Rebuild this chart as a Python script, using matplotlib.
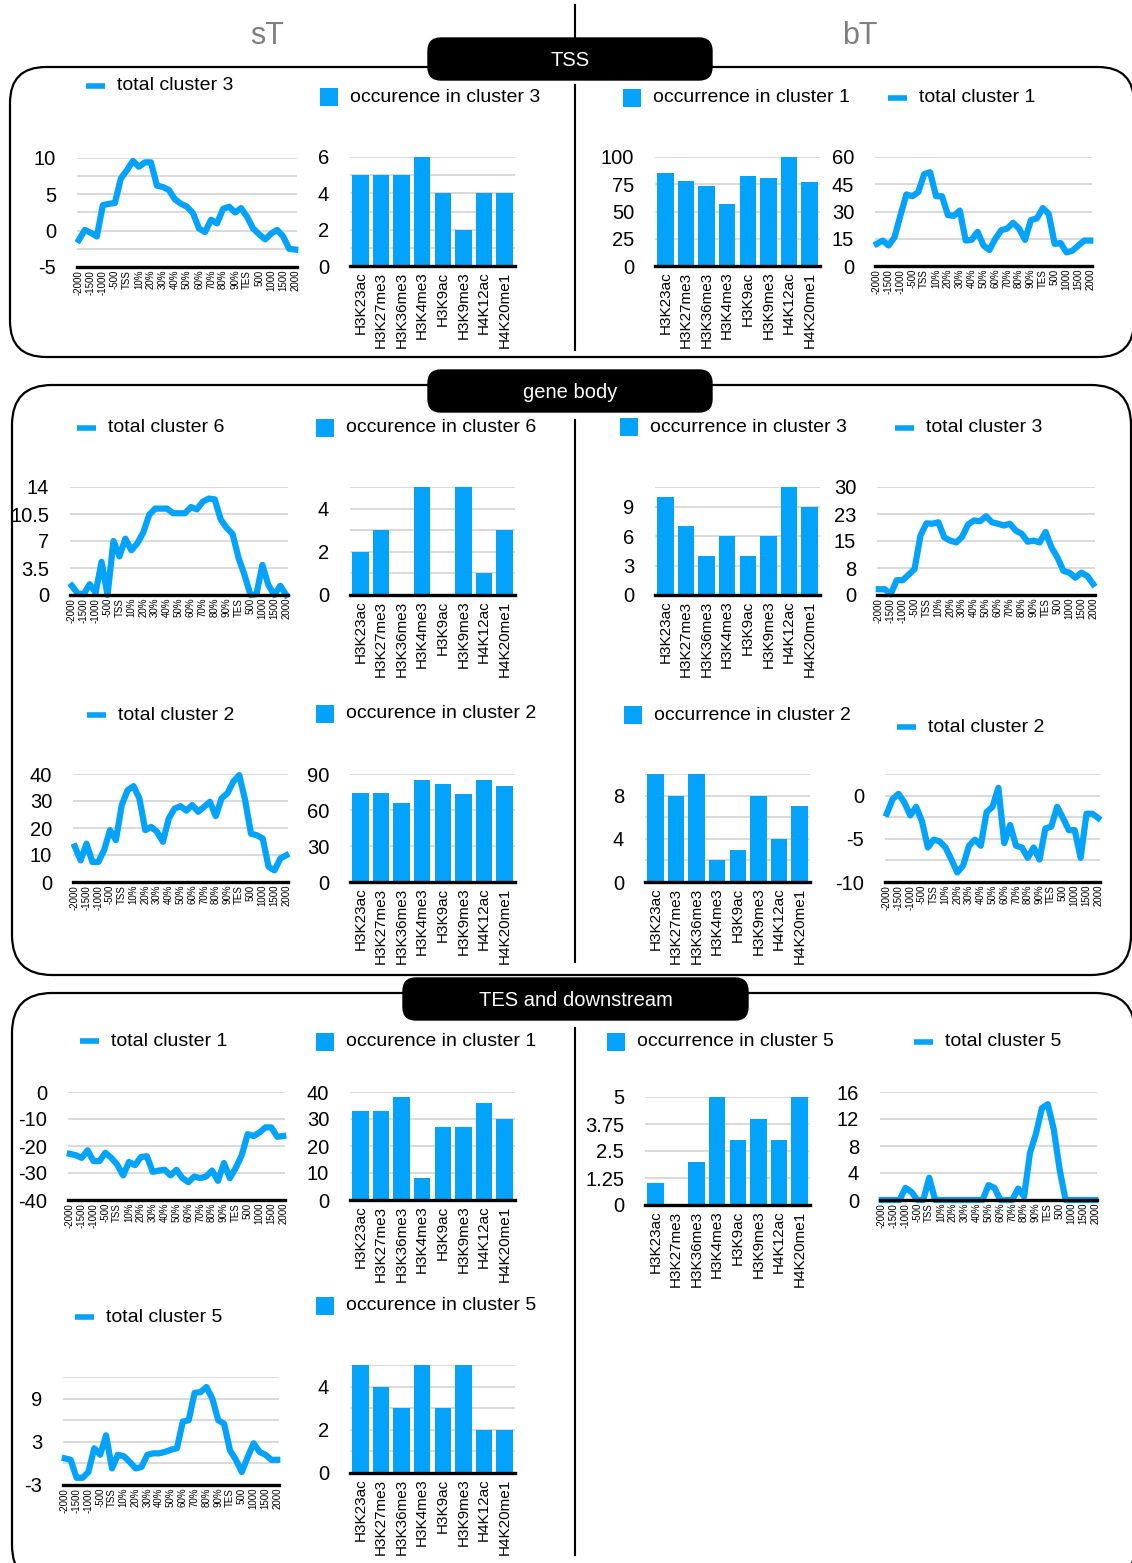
import matplotlib
matplotlib.use('Agg')
import matplotlib.pyplot as plt
from matplotlib.patches import FancyBboxPatch, Rectangle

plt.rcParams['font.family'] = ['Liberation Sans', 'DejaVu Sans']

W, H = 1132, 1563
BLUE = '#03a3fb'

POS_LABELS = ['-2000', '-1500', '-1000', '-500', 'TSS', '10%', '20%', '30%', '40%',
              '50%', '60%', '70%', '80%', '90%', 'TES', '500', '1000', '1500', '2000']
MARKS = ['H3K23ac', 'H3K27me3', 'H3K36me3', 'H3K4me3', 'H3K9ac', 'H3K9me3', 'H4K12ac', 'H4K20me1']

# TSS
tss_st_total3 = [-1.3, 0.1, -0.3, -0.8, 3.5, 3.7, 3.8, 7.2, 8.3, 9.6, 8.8, 9.4, 9.4, 6.2, 6.0, 5.6,
                 4.3, 3.7, 3.3, 2.4, 0.3, -0.2, 1.5, 1.0, 3.0, 3.3, 2.5, 3.1, 1.9, 0.3, -0.5, -1.2,
                 -0.4, 0.1, -0.8, -2.5, -2.6]
tss_st_occ3 = [5, 5, 5, 6, 4, 2, 4, 4]
tss_bt_occ1 = [85, 78, 73, 57, 83, 81, 100, 77]
tss_bt_total1 = [12.2, 14, 11.3, 15.9, 28, 39.4, 38.4, 40.7, 50.6, 51.6, 38.4, 38.4, 28, 27.6, 30.5,
                 14, 14.4, 18.8, 11.3, 8.8, 15, 19.7, 20.6, 23.8, 20.6, 14.4, 25.3, 26.2, 31.9, 28.7,
                 12.2, 12.6, 7.5, 8.4, 11.3, 14, 14]

# gene body
gb_st_total6 = [1.2, 0.2, 0.1, 1.4, 0.3, 4.3, 0.0, 7.0, 5.0, 7.3, 5.8, 6.7, 8.1, 10.4, 11.2, 11.2,
                11.2, 10.6, 10.6, 10.6, 11.4, 11.1, 12.1, 12.5, 12.4, 9.8, 8.7, 7.9, 4.8, 2.6, 0.0,
                0.1, 3.9, 1.3, 0.0, 1.2, 0.0]
gb_st_occ6 = [2, 3, 0, 5, 0, 5, 1, 3]
gb_bt_occ3 = [10, 7, 4, 6, 4, 6, 11, 9]
gb_bt_total3 = [1.6, 1.6, 0.2, 4.1, 4.1, 5.6, 7.2, 16.5, 19.9, 19.8, 20.2, 16.0, 15.1, 14.6, 16.2,
                19.6, 20.7, 20.5, 21.9, 20.2, 19.8, 19.3, 19.8, 17.9, 17.0, 14.8, 15.1, 14.6, 17.5,
                13.2, 10.4, 6.7, 6.2, 4.8, 6.2, 5.3, 3.0]
gb_st_total2 = [13.2, 8.0, 14.2, 7.4, 7.4, 11.8, 19.2, 15.5, 28.5, 34, 35.5, 31, 19.2, 20.4, 18.6,
                14.9, 23.5, 27.2, 28.1, 26.4, 28.5, 26, 27.8, 29.7, 24.4, 31, 32.9, 37.2, 39.6, 30.3,
                17.9, 17.3, 16.1, 5.6, 4.3, 8.7, 9.9]
gb_st_occ2 = [74, 74, 66, 85, 82, 73, 85, 80]
gb_bt_occ2 = [10, 8, 10, 2, 3, 8, 4, 7]
gb_bt_total2 = [-2.1, -0.4, 0.2, -0.8, -2.3, -1.3, -3.0, -6.0, -5.1, -5.3, -6.0, -7.4, -8.9, -8.1,
                -5.8, -5.1, -5.8, -1.9, -1.3, 0.9, -5.5, -3.4, -5.8, -6.0, -7.2, -6.0, -7.4, -3.8,
                -3.6, -1.3, -2.6, -4.0, -4.0, -7.2, -2.1, -2.1, -2.6]

# TES and downstream
tes_st_total1 = [-22.9, -23.4, -24.4, -21.6, -25.6, -25.6, -22.5, -24.4, -26.9, -30.9, -25.9, -27.1,
                 -24.1, -23.8, -29.6, -29.1, -28.8, -30.9, -28.8, -31.9, -33.4, -31.3, -31.9, -31.3,
                 -29.1, -32.9, -26.3, -31.9, -28.1, -23.4, -15.6, -16.3, -15.0, -13.1, -13.1, -16.6,
                 -16.3]
tes_st_occ1 = [33, 33, 38, 8, 27, 27, 36, 30]
tes_bt_occ5 = [1, 0, 2, 5, 3, 4, 3, 5]
tes_bt_total5 = [0, 0, 0, 0, 1.8, 1.2, 0, 0, 3.3, 0, 0, 0, 0, 0, 0, 0, 0, 0, 2.2, 1.8, 0, 0, 0, 1.7,
                 0.5, 7.0, 9.8, 13.6, 14.2, 10.5, 4.5, 0, 0, 0, 0, 0, 0]
tes_st_total5 = [0.7, 0.5, -2.0, -2.0, -1.2, 2.1, 1.2, 3.9, -0.7, 1.2, 1.0, 0.2, -0.7, -0.5, 1.2, 1.4,
                 1.4, 1.6, 1.9, 2.1, 5.8, 6.0, 9.8, 9.9, 10.6, 9.0, 6.0, 5.5, 1.8, 0.5, -1.2, 0.9, 2.8,
                 1.6, 1.2, 0.5, 0.5]
tes_st_occ5 = [5, 4, 3, 5, 3, 5, 2, 2]

fig = plt.figure(figsize=(W / 100, H / 100), dpi=100)

# background layer in pixel coordinates
bg = fig.add_axes([0, 0, 1, 1])
bg.set_xlim(0, W)
bg.set_ylim(H, 0)
bg.axis('off')


def axes_px(x0, x1, y0, y1):
    return fig.add_axes([x0 / W, 1 - y1 / H, (x1 - x0) / W, (y1 - y0) / H])


def style_axes(ax, ylim, ticks, labels, grid):
    ax.set_ylim(*ylim)
    ax.set_yticks(ticks, labels)
    ax.set_yticks(grid, minor=True)
    ax.grid(True, axis='y', which='both', color='#cfcfcf', lw=1.1)
    ax.set_axisbelow(True)
    for s in ['top', 'right', 'left']:
        ax.spines[s].set_visible(False)
    ax.spines['bottom'].set_linewidth(2.4)
    ax.tick_params(axis='y', which='both', length=0, labelsize=14.5, pad=15)
    ax.tick_params(axis='x', length=0)
    ax.patch.set_alpha(0)


def line_legend(x, y, text):
    bg.plot([x, x + 19], [y, y], color=BLUE, lw=4, solid_capstyle='butt')
    bg.text(x + 31, y, text, fontsize=14, va='center', ha='left')


def bar_legend(x, y, text):
    bg.add_patch(Rectangle((x, y - 9), 18, 18, color=BLUE, lw=0))
    bg.text(x + 30, y, text, fontsize=14, va='center', ha='left')


def line_chart(box, values, ylim, ticks, labels, grid, leg, name):
    ax = axes_px(*box)
    ax.plot(range(len(values)), values, color=BLUE, lw=4.5, solid_joinstyle='round',
            clip_on=False)
    ax.set_xlim(-0.3, len(values) - 0.7)
    ax.set_xticks(range(0, len(values), 2), POS_LABELS, rotation=90, fontsize=7)
    ax.tick_params(axis='x', pad=2)
    style_axes(ax, ylim, ticks, labels, grid)
    line_legend(leg[0], leg[1], name)
    return ax


def bar_chart(box, values, ylim, ticks, labels, grid, leg, name):
    ax = axes_px(*box)
    ax.bar(range(len(values)), values, width=0.8, color=BLUE)
    ax.set_xlim(-0.5, len(values) - 0.5)
    ax.set_xticks(range(len(values)), MARKS, rotation=90, fontsize=11)
    ax.tick_params(axis='x', pad=4)
    style_axes(ax, ylim, ticks, labels, grid)
    bar_legend(leg[0], leg[1], name)
    return ax


# panels
for (x0, y0, x1, y1, r) in [(10, 67, 1134, 357, 36), (12, 385, 1131, 975, 40), (12, 993, 1135, 1585, 40)]:
    bg.add_patch(FancyBboxPatch((x0, y0), x1 - x0, y1 - y0,
                                boxstyle='round,pad=0,rounding_size=%d' % r,
                                fc='white', ec='black', lw=1.6))

# center divider
for (ya, yb) in [(5, 38), (85, 350), (420, 962), (1028, 1555)]:
    bg.plot([575, 575], [ya, yb], color='black', lw=1.5)

# headers
bg.text(267, 36, 'sT', fontsize=22, color='#7f7f7f', ha='center', va='center')
bg.text(860, 36, 'bT', fontsize=22, color='#7f7f7f', ha='center', va='center')

for (x0, y0, x1, y1, label) in [(428, 38, 712, 80, 'TSS'), (428, 370, 712, 412, 'gene body'),
                                (403, 978, 748, 1020, 'TES and downstream')]:
    bg.add_patch(FancyBboxPatch((x0, y0), x1 - x0, y1 - y0,
                                boxstyle='round,pad=0,rounding_size=13', fc='black', ec='black'))
    bg.text((x0 + x1) / 2, (y0 + y1) / 2 + 1, label, color='white', fontsize=14.5,
            ha='center', va='center')

# ---- TSS ----
line_chart((77, 297, 158, 267), tss_st_total3, (-5, 10), [-5, 0, 5, 10], ['-5', '0', '5', '10'],
           [-2.5, 2.5, 7.5], (86, 86), 'total cluster 3')
bar_chart((350, 515, 157, 266), tss_st_occ3, (0, 6), [0, 2, 4, 6], ['0', '2', '4', '6'],
          [1, 3, 5], (320, 97), 'occurence in cluster 3')
bar_chart((655, 820, 157, 266), tss_bt_occ1, (0, 100), [0, 25, 50, 75, 100],
          ['0', '25', '50', '75', '100'], [], (623, 98), 'occurrence in cluster 1')
line_chart((875, 1092, 157, 266), tss_bt_total1, (0, 60), [0, 15, 30, 45, 60],
           ['0', '15', '30', '45', '60'], [], (888, 98), 'total cluster 1')

# ---- gene body ----
line_chart((70, 288, 487, 595), gb_st_total6, (0, 14), [0, 3.5, 7, 10.5, 14],
           ['0', '3.5', '7', '10.5', '14'], [], (77, 428), 'total cluster 6')
bar_chart((350, 515, 487, 595), gb_st_occ6, (0, 5), [0, 2, 4], ['0', '2', '4'],
          [1, 3, 5], (316, 428), 'occurence in cluster 6')
bar_chart((655, 820, 487, 595), gb_bt_occ3, (0, 11), [0, 3, 6, 9], ['0', '3', '6', '9'],
          [11], (620, 427), 'occurrence in cluster 3')
line_chart((877, 1095, 487, 595), gb_bt_total3, (0, 30), [0, 7.5, 15, 22.5, 30],
           ['0', '8', '15', '23', '30'], [], (895, 428), 'total cluster 3')

line_chart((73, 288, 774, 882), gb_st_total2, (0, 40), [0, 10, 20, 30, 40],
           ['0', '10', '20', '30', '40'], [], (87, 715), 'total cluster 2')
bar_chart((350, 515, 774, 882), gb_st_occ2, (0, 90), [0, 30, 60, 90], ['0', '30', '60', '90'],
          [], (316, 714), 'occurence in cluster 2')
bar_chart((645, 810, 774, 882), gb_bt_occ2, (0, 10), [0, 4, 8], ['0', '4', '8'],
          [2, 6, 10], (624, 715), 'occurrence in cluster 2')
line_chart((885, 1100, 774, 882), gb_bt_total2, (-10, 2.5), [-10, -5, 0], ['-10', '-5', '0'],
           [-7.5, -2.5, 2.5], (897, 727), 'total cluster 2')

# ---- TES and downstream ----
line_chart((68, 285, 1092, 1200), tes_st_total1, (-40, 0), [-40, -30, -20, -10, 0],
           ['-40', '-30', '-20', '-10', '0'], [], (80, 1041), 'total cluster 1')
bar_chart((350, 515, 1092, 1200), tes_st_occ1, (0, 40), [0, 10, 20, 30, 40],
          ['0', '10', '20', '30', '40'], [], (316, 1042), 'occurence in cluster 1')
bar_chart((645, 810, 1097, 1205), tes_bt_occ5, (0, 5), [0, 1.25, 2.5, 3.75, 5],
          ['0', '1.25', '2.5', '3.75', '5'], [], (607, 1042), 'occurrence in cluster 5')
line_chart((880, 1097, 1092, 1200), tes_bt_total5, (0, 16), [0, 4, 8, 12, 16],
           ['0', '4', '8', '12', '16'], [], (914, 1042), 'total cluster 5')

line_chart((63, 279, 1377, 1485), tes_st_total5, (-3, 12), [-3, 3, 9], ['-3', '3', '9'],
           [0, 6, 12], (75, 1317), 'total cluster 5')
bar_chart((350, 515, 1365, 1473), tes_st_occ5, (0, 5), [0, 2, 4], ['0', '2', '4'],
          [1, 3, 5], (316, 1306), 'occurence in cluster 5')

fig.savefig('out.png', dpi=100)
